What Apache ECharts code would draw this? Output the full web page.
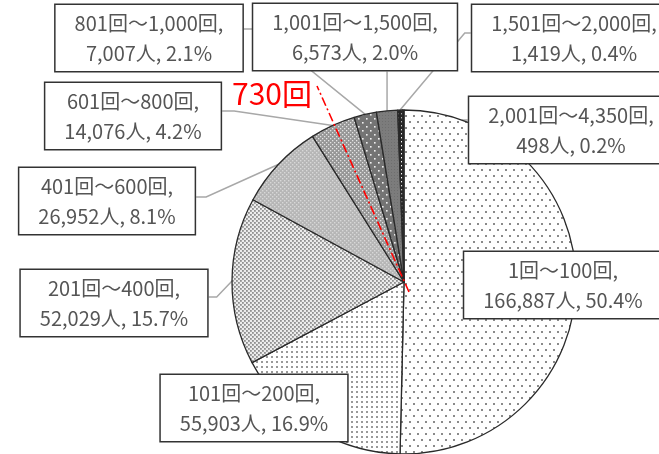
<!DOCTYPE html>
<html>
<head>
<meta charset="utf-8">
<script src="https://cdn.jsdelivr.net/npm/echarts@6/dist/echarts.min.js"></script>
<style>
  html, body { margin: 0; padding: 0; background: #fff; }
  #chart { width: 659px; height: 454px; }
</style>
</head>
<body>
<div id="chart"></div>
<script>
// data
const ranges = ['1回～100回', '101回～200回', '201回～400回', '401回～600回', '601回～800回',
                '801回～1,000回', '1,001回～1,500回', '1,501回～2,000回', '2,001回～4,350回'];
const people = [166887, 55903, 52029, 26952, 14076, 7007, 6573, 1419, 498];
const percents = ['50.4%', '16.9%', '15.7%', '8.1%', '4.2%', '2.1%', '2.0%', '0.4%', '0.2%'];

// label box centres and leader anchors (layout only)
const labelPos = [[563, 285], [254, 408], [114, 303], [107, 201], [133, 116],
                  [149, 38], [355, 37], [574, 38], [571, 130]];
const leaderSide = [null, null, 'right', 'right', 'right', 'right', 'bottom', 'left', 'left'];
const leaderDy = [0, 0, -6, -4, -5, -9, 0, -5, -10];
const leaderElbow = [0, 0, 8, 10, 12, 16, 0, 6, 5];

// small canvas tiles for the hatch-like fills
function tile(w, h, bg, dot, pts, d) {
  const c = document.createElement('canvas');
  c.width = w; c.height = h;
  const ctx = c.getContext('2d');
  ctx.fillStyle = bg;
  ctx.fillRect(0, 0, w, h);
  ctx.fillStyle = dot;
  pts.forEach(function (p) { ctx.fillRect(p[0], p[1], d, d); });
  return { image: c, repeat: 'repeat' };
}

const fills = [
  tile(8, 12, '#ffffff', '#8a8a8a', [[1, 1], [5, 7]], 2),
  tile(5, 5, '#ffffff', '#999999', [[1, 1]], 2),
  tile(4, 4, '#ececec', '#909090', [[0, 0], [2, 2]], 1.8),
  tile(4, 4, '#b6b6b6', '#d8d8d8', [[0, 0], [2, 2]], 1.4),
  tile(4, 4, '#969696', '#e4e4e4', [[0, 0], [2, 2]], 1.3),
  tile(8, 8, '#747474', '#f0f0f0', [[2, 2], [6, 6]], 1.6),
  tile(3, 3, '#7c7c7c', '#6e6e6e', [[1, 1]], 1),
  tile(4, 4, '#262626', '#ffffff', [[1, 1]], 1.4),
  '#151515'
];

const chart = echarts.init(document.getElementById('chart'));
const cx = 404, cy = 282;

const pieData = ranges.map(function (r, i) {
  const item = {
    value: people[i],
    name: r,
    itemStyle: { color: fills[i] }
  };
  if (!leaderSide[i]) item.labelLine = { show: false };
  return item;
});

chart.setOption({
  animation: false,
  series: [{
    type: 'pie',
    center: [cx, cy],
    radius: 172,
    startAngle: 90,
    clockwise: true,
    avoidLabelOverlap: false,
    data: pieData,
    itemStyle: { borderColor: '#2a2a2a', borderWidth: 1.3 },
    label: {
      show: true,
      position: 'outside',
      formatter: function (p) {
        return ranges[p.dataIndex] + ',\n' + people[p.dataIndex].toLocaleString('en-US') + '人, ' + percents[p.dataIndex];
      },
      fontFamily: 'Noto Sans CJK JP',
      fontSize: 20,
      lineHeight: 30,
      color: '#555',
      align: 'center',
      backgroundColor: '#fff',
      borderColor: '#333',
      borderWidth: 1.5,
      padding: [3, 19]
    },
    labelLine: {
      show: true,
      length: 10,
      length2: 10,
      lineStyle: { color: '#a8a8a8', width: 1.5 }
    },
    emphasis: { disabled: true },
    labelLayout: function (params) {
      const i = params.dataIndex;
      const x = labelPos[i][0], y = labelPos[i][1];
      const res = { x: x, y: y, align: 'center', verticalAlign: 'middle' };
      const side = leaderSide[i];
      if (side && params.labelLinePoints) {
        let p0 = params.labelLinePoints[0];
        const w = params.labelRect.width, h = params.labelRect.height;
        if (i === 8) {
          // tiny slice: leader runs into the pie a bit
          p0 = [cx + (p0[0] - cx) * 0.77, cy + (p0[1] - cy) * 0.77];
        }
        if (side === 'bottom') {
          const by = y + h / 2;
          res.labelLinePoints = [p0, [p0[0], (p0[1] + by) / 2], [p0[0], by]];
        } else if (side === 'right') {
          const ax = x + w / 2, ay = y + leaderDy[i];
          res.labelLinePoints = [p0, [ax + leaderElbow[i], ay], [ax, ay]];
        } else {
          const ax = x - w / 2, ay = y + leaderDy[i];
          res.labelLinePoints = [p0, [ax - leaderElbow[i], ay], [ax, ay]];
        }
      }
      return res;
    }
  }],
  graphic: [
    {
      type: 'text',
      left: 232,
      top: 79,
      z: 100,
      style: { text: '730回', fill: '#ff0000', fontSize: 30, fontFamily: 'Noto Sans CJK JP' }
    },
    {
      type: 'polyline',
      z: 100,
      shape: { points: [[409, 292], [317, 86]] },
      style: { stroke: '#ff0000', lineWidth: 1.6, lineDash: [9, 3, 2, 3], fill: null }
    }
  ]
});
</script>
</body>
</html>
